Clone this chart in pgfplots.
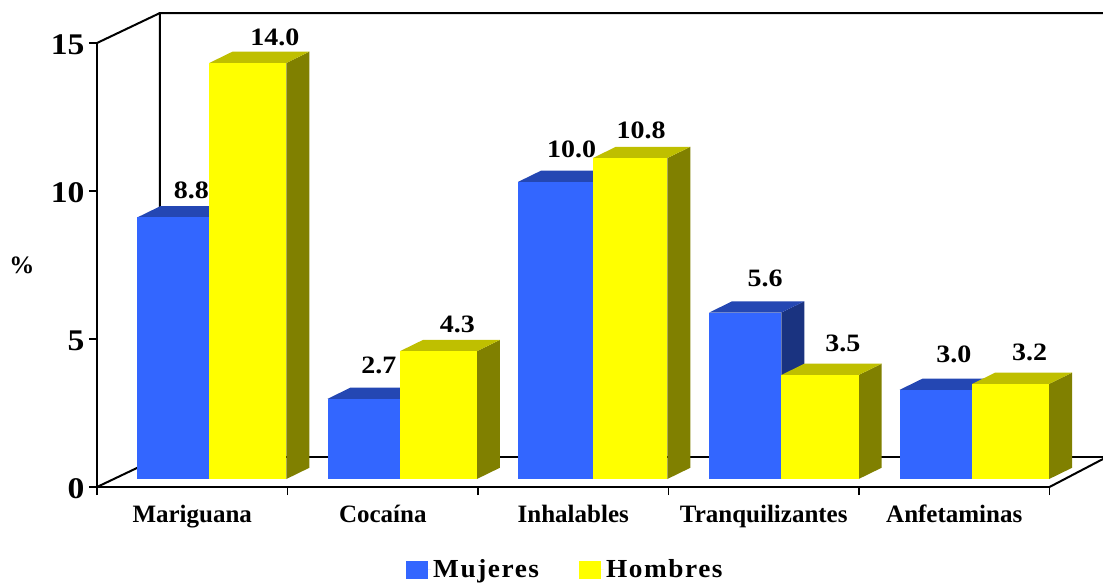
\documentclass[border=0pt]{standalone}
\usepackage{fontspec}
\setmainfont{Liberation Serif}
\newfontfamily\spaced[LetterSpace=6,FakeStretch=1.05]{Liberation Serif}
\newfontfamily\widened[FakeStretch=1.12]{Liberation Serif}
\usepackage{pgfplots}
\pgfplotsset{compat=1.18}

\definecolor{blueFront}{HTML}{3366FF}
\definecolor{blueTop}{HTML}{2447B3}
\definecolor{blueSide}{HTML}{1A3380}
\definecolor{yellowFront}{HTML}{FFFF00}
\definecolor{yellowTop}{HTML}{BFBF00}
\definecolor{yellowSide}{HTML}{808000}

% Offsets of the bars and of the back wall, in axis units
\def\barbase{0.27}
\def\depthx{0.1207}
\def\depthy{0.38}
\def\wallx{0.3307}
\def\wally{1.0135}

% One cuboid: #1 group, #2 left edge, #3 right edge, #4 value,
% #5 colour prefix, #6/#7 shift of the value label in pt
\newcommand{\cuboid}[7]{%
  \pgfmathsetmacro{\xa}{#1+#2}%
  \pgfmathsetmacro{\xb}{#1+#3}%
  \pgfmathsetmacro{\xc}{\xa+\depthx}%
  \pgfmathsetmacro{\xd}{\xb+\depthx}%
  \pgfmathsetmacro{\ya}{\barbase}%
  \pgfmathsetmacro{\yb}{\barbase+#4*1.004}%
  \pgfmathsetmacro{\yc}{\ya+\depthy}%
  \pgfmathsetmacro{\yd}{\yb+\depthy}%
  \pgfmathsetmacro{\xm}{(\xa+\xb)/2}%
  \edef\temp{%
    \noexpand\addplot[forget plot,draw=none,fill=#5Side] coordinates
      {(\xb,\ya) (\xd,\yc) (\xd,\yd) (\xb,\yb)};
    \noexpand\addplot[forget plot,draw=none,fill=#5Top] coordinates
      {(\xa,\yb) (\xc,\yd) (\xd,\yd) (\xb,\yb)};
    \noexpand\addplot[forget plot,draw=none,fill=#5Front] coordinates
      {(\xa,\ya) (\xa,\yb) (\xb,\yb) (\xb,\ya)};
    \noexpand\node[font=\noexpand\vallabel,anchor=center]
      at (axis cs:\xm,\yb) [xshift=#6pt,yshift=#7pt] {#4};
  }%
  \temp
}
\newcommand{\vallabel}{\widened\bfseries\fontsize{25}{25}\selectfont}

\begin{document}
\begin{tikzpicture}
\begin{axis}[
  at={(0pt,0pt)}, anchor=origin,
  scale only axis, width=952.5pt, height=444pt,
  xmin=0, xmax=5, ymin=0, ymax=15,
  clip=false,
  axis x line*=bottom, axis y line*=left,
  axis line style={black,line width=2pt,-},
  tick style={black,line width=1.8pt},
  tick align=outside,
  major tick length=8pt, minor tick length=8pt,
  ytick={0,5,10,15},
  xtick={0.5,1.5,2.5,3.5,4.5},
  xticklabels={Mariguana,Cocaína,Inhalables,Tranquilizantes,Anfetaminas},
  minor xtick={0,1,2,3,4,5},
  x tick style={/pgfplots/major tick length=0pt},
  /pgf/number format/assume math mode=true,
  yticklabel style={font=\widened\bfseries\fontsize{30}{30}\selectfont,xshift=-1pt,yshift=-2pt},
  xticklabel style={font=\bfseries\fontsize{25}{25}\selectfont,anchor=base,yshift=-27pt},
  ylabel={\%},
  ylabel style={at={(axis description cs:-0.0788,0.5)},anchor=center,rotate=-90,
    font=\bfseries\fontsize{25}{25}\selectfont},
  legend columns=2,
  legend style={at={(axis description cs:0.3244,-0.186)},anchor=west,draw=none,fill=none,
    inner sep=0pt,font=\spaced\bfseries\fontsize{26}{26}\selectfont,
    /tikz/every even column/.append style={column sep=38pt}},
  legend cell align=left,
  legend image code/.code={\fill[#1] (0pt,-9pt) rectangle (22pt,9pt);
    \path (0pt,0pt) -- (25pt,0pt);},
]
% Back wall and floor of the box
\addplot[forget plot,black,line width=2pt] coordinates
  {(0,0) (\wallx,\wally) (\wallx,16.0135) (5.282,16.0135)};
\addplot[forget plot,black,line width=2pt] coordinates
  {(0,15) (\wallx,16.0135)};
\addplot[forget plot,black,line width=2pt] coordinates
  {(\wallx,\wally) (5.282,\wally)};
\addplot[forget plot,black,line width=2pt] coordinates
  {(5,0) (5.282,0.95)};

% Bars, blue before yellow so that yellow overlaps
\cuboid{0}{0.211}{0.590}{8.8}{blue}{18}{27}
\cuboid{0}{0.590}{0.994}{14.0}{yellow}{27}{26}
\cuboid{1}{0.211}{0.590}{2.7}{blue}{15}{33}
\cuboid{1}{0.590}{0.994}{4.3}{yellow}{19}{27}
\cuboid{2}{0.211}{0.603}{10.0}{blue}{16}{32}
\cuboid{2}{0.603}{0.994}{10.8}{yellow}{11}{28}
\cuboid{3}{0.213}{0.592}{5.6}{blue}{20}{34}
\cuboid{3}{0.592}{0.998}{3.5}{yellow}{23}{32}
\cuboid{4}{0.213}{0.594}{3.0}{blue}{18}{35}
\cuboid{4}{0.594}{0.998}{3.2}{yellow}{19}{32}

\addlegendimage{draw=none,fill=blueFront}
\addlegendentry{Mujeres}
\addlegendimage{draw=none,fill=yellowFront}
\addlegendentry{Hombres}
\end{axis}
\pgfresetboundingbox
\useasboundingbox (-97pt,-95pt) rectangle (1006pt,487pt);
\end{tikzpicture}
\end{document}
